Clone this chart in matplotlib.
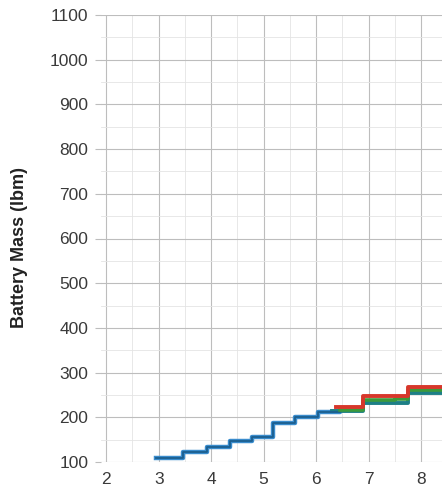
import matplotlib
matplotlib.use("Agg")
import matplotlib.pyplot as plt
from matplotlib.ticker import MultipleLocator

plt.rcParams['font.family'] = ['Liberation Sans', 'DejaVu Sans']

# data (step series, where='post')
blue_x = [2.95, 3.46, 3.92, 4.35, 4.78, 5.18, 5.59, 6.04, 6.45]
blue_y = [110, 123, 134, 146, 157, 188, 201, 212, 214]

teal_x = [6.30, 6.89, 7.75, 8.45]
teal_y = [214, 233, 255, 258]

green_x = [6.45, 6.89, 7.50, 7.75, 8.45]
green_y = [216, 238, 240, 260, 262]

red_x = [6.37, 6.90, 7.76, 8.45]
red_y = [222, 247, 268, 268]

x_ticks = [2, 3, 4, 5, 6, 7, 8]
y_ticks = [100, 200, 300, 400, 500, 600, 700, 800, 900, 1000, 1100]

fig = plt.figure(figsize=(4.42, 4.95), dpi=100)
ax = fig.add_axes([101/442, 1 - 462/495, 1 - 101/442, 447/495])

ax.step(blue_x, blue_y, where='post', color='#3a8ccd', lw=3.2, zorder=3)
ax.step(blue_x, blue_y, where='post', color='#1c5f8f', lw=1.3, zorder=4)
ax.step(teal_x, teal_y, where='post', color='#1d7f86', lw=2.8, zorder=3)
ax.step(green_x, green_y, where='post', color='#3b9a3b', lw=2.6, zorder=4)
ax.step(red_x, red_y, where='post', color='#d7372b', lw=2.8, zorder=5)

ax.set_xlim(1.9, 8.4)
ax.set_ylim(100, 1100)
ax.set_xticks(x_ticks)
ax.set_yticks(y_ticks)
ax.xaxis.set_minor_locator(MultipleLocator(0.5))
ax.yaxis.set_minor_locator(MultipleLocator(50))
ax.grid(which='major', color='#bdbdbd', lw=0.8)
ax.grid(which='minor', color='#e4e4e4', lw=0.6)
ax.set_axisbelow(True)
for s in ax.spines.values():
    s.set_visible(False)
ax.tick_params(axis='y', which='major', length=4, color='#bdbdbd', labelsize=12.5, labelcolor='#3a3a3a', pad=5)
ax.tick_params(axis='x', which='major', length=0, labelsize=12.5, labelcolor='#3a3a3a', pad=7)
ax.tick_params(which='minor', length=0)

fig.text(20/442, 1 - 248/495, 'Battery Mass (lbm)', rotation=90, fontsize=13,
         fontweight='bold', color='#222222', ha='center', va='center')

fig.savefig('out.png', dpi=100)
